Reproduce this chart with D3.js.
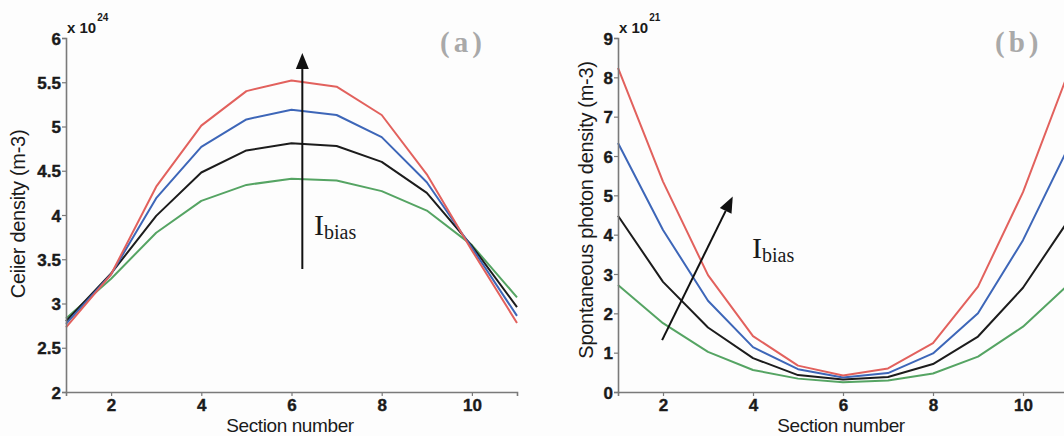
<!DOCTYPE html>
<html>
<head>
<meta charset="utf-8">
<script src="https://cdn.jsdelivr.net/npm/d3@7/dist/d3.min.js"></script>
<style>
  html, body { margin: 0; padding: 0; background: #fdfdfd; }
  svg { display: block; }
</style>
</head>
<body>
<svg id="chart" width="1064" height="436"></svg>
<script>
// Section index along the laser cavity
const sections = [1, 2, 3, 4, 5, 6, 7, 8, 9, 10, 11];

// (a) Carrier density, units of 1e24 m^-3, one series per bias current (low -> high)
const carrierGreen = [2.83, 3.28, 3.80, 4.16, 4.34, 4.41, 4.39, 4.27, 4.05, 3.66, 3.07];
const carrierBlack = [2.80, 3.34, 3.99, 4.48, 4.73, 4.81, 4.78, 4.60, 4.25, 3.65, 2.96];
const carrierBlue  = [2.77, 3.33, 4.19, 4.77, 5.08, 5.19, 5.13, 4.88, 4.37, 3.63, 2.86];
const carrierRed   = [2.73, 3.33, 4.32, 5.01, 5.40, 5.52, 5.45, 5.13, 4.46, 3.60, 2.78];

// (b) Spontaneous photon density, units of 1e21 m^-3
const photonGreen = [2.72, 1.75, 1.02, 0.56, 0.34, 0.25, 0.29, 0.47, 0.90, 1.66, 2.72];
const photonBlack = [4.48, 2.80, 1.64, 0.86, 0.43, 0.32, 0.38, 0.71, 1.41, 2.65, 4.35];
const photonBlue  = [6.33, 4.12, 2.32, 1.14, 0.58, 0.37, 0.48, 0.98, 2.00, 3.86, 6.20];
const photonRed   = [8.24, 5.35, 2.97, 1.42, 0.67, 0.42, 0.60, 1.24, 2.68, 5.08, 8.10];

// Axis ticks
const xTicks = [2, 4, 6, 8, 10];
const carrierTicks = [2, 2.5, 3, 3.5, 4, 4.5, 5, 5.5, 6];
const photonTicks = [0, 1, 2, 3, 4, 5, 6, 7, 8, 9];

// Arrows showing increasing bias: [x0, y0, x1, y1] in data units
const arrowA = [6.24, 3.39, 6.24, 5.83];
const arrowB = [1.98, 1.32, 3.55, 4.97];

const colors = { green: "#55a463", black: "#1c1c1c", blue: "#3d66b8", red: "#e2615d" };
const sans = "'Liberation Sans', Arial, sans-serif";
const serif = "'Liberation Serif', 'Times New Roman', serif";

const svg = d3.select("#chart");

function panel(opts) {
  const x = d3.scaleLinear().domain([1, 11]).range(opts.xRange);
  const y = d3.scaleLinear().domain(opts.yDomain).range([392, 38]);
  const g = svg.append("g");

  const series = [
    { v: opts.data[0], c: colors.green },
    { v: opts.data[1], c: colors.black },
    { v: opts.data[2], c: colors.blue },
    { v: opts.data[3], c: colors.red }
  ];
  const line = d3.line().x((d, i) => x(sections[i])).y(d => y(d));
  g.selectAll("path.series").data(series).enter().append("path")
    .attr("class", "series")
    .attr("d", d => line(d.v))
    .attr("fill", "none")
    .attr("stroke", d => d.c)
    .attr("stroke-width", 2)
    .attr("stroke-linejoin", "round");

  // axes
  const xAxis = g.append("g").attr("transform", "translate(0,392)")
    .call(d3.axisBottom(x).tickValues(xTicks).tickSize(4).tickPadding(3).tickFormat(d3.format("d")));
  const yAxis = g.append("g").attr("transform", `translate(${opts.xRange[0]},0)`)
    .call(d3.axisLeft(y).tickValues(opts.yTicks).tickSize(4).tickPadding(1).tickFormat(d => String(d)));
  [xAxis, yAxis].forEach(a => {
    a.select(".domain").attr("stroke", "#7a7a7a").attr("stroke-width", 1.6);
    a.selectAll(".tick line").attr("stroke", "#7a7a7a").attr("stroke-width", 1.2);
    a.selectAll(".tick text")
      .attr("font-family", sans).attr("font-weight", 700)
      .attr("font-size", 17).attr("fill", "#1a1a1a")
      .attr("stroke", "#1a1a1a").attr("stroke-width", 0.4);
  });
  xAxis.selectAll(".tick text").attr("dy", "0.71em");
  yAxis.selectAll(".tick text").attr("dy", "0.36em");

  // exponent
  const ex = g.append("text")
    .attr("x", opts.xRange[0] + 1).attr("y", 33)
    .attr("font-family", sans)
    .attr("font-weight", 700).attr("font-size", 15).attr("fill", "#1a1a1a");
  ex.append("tspan").text("x 10");
  ex.append("tspan").attr("font-size", 10).attr("dy", -12).attr("dx", 1).text(opts.exp);

  // axis titles
  g.append("text")
    .attr("transform", `translate(${opts.yLabelX},${opts.yLabelY}) rotate(-90)`)
    .attr("text-anchor", "middle")
    .attr("font-family", sans)
    .attr("font-size", 20).attr("letter-spacing", -0.3).attr("fill", "#1a1a1a")
    .text(opts.yLabel);
  g.append("text")
    .attr("x", opts.xLabelX).attr("y", 432)
    .attr("text-anchor", "middle")
    .attr("font-family", sans)
    .attr("font-size", 19).attr("letter-spacing", -0.4).attr("fill", "#1a1a1a")
    .text("Section number");

  // panel tag
  g.append("text")
    .attr("x", opts.tagX).attr("y", 52)
    .attr("font-family", serif)
    .attr("font-weight", "bold").attr("font-size", 29).attr("letter-spacing", 4)
    .attr("fill", "#a9a9a9")
    .text(opts.tag);

  // bias arrow
  const a = opts.arrow;
  const x0 = x(a[0]), y0 = y(a[1]), x1 = x(a[2]), y1 = y(a[3]);
  const ang = Math.atan2(y1 - y0, x1 - x0);
  const headLen = 16, headW = 6.5;
  const bx = x1 - headLen * Math.cos(ang), by = y1 - headLen * Math.sin(ang);
  g.append("line")
    .attr("x1", x0).attr("y1", y0).attr("x2", bx).attr("y2", by)
    .attr("stroke", "#111").attr("stroke-width", 2);
  g.append("path")
    .attr("d", `M${x1},${y1}L${bx - headW * Math.sin(ang)},${by + headW * Math.cos(ang)}L${bx + headW * Math.sin(ang)},${by - headW * Math.cos(ang)}Z`)
    .attr("fill", "#111");

  // bias label
  const lb = g.append("text")
    .attr("x", opts.biasX).attr("y", opts.biasY)
    .attr("font-family", serif)
    .attr("font-size", 30).attr("fill", "#1a1a1a");
  lb.append("tspan").text("I");
  lb.append("tspan").attr("font-size", 20).attr("dy", 4).text("bias");
}

panel({
  xRange: [66, 517], yDomain: [2, 6], yTicks: carrierTicks, exp: "24",
  data: [carrierGreen, carrierBlack, carrierBlue, carrierRed],
  yLabel: "Ceiier density (m-3)", yLabelX: 25, yLabelY: 214, xLabelX: 290,
  tag: "(a)", tagX: 440, arrow: arrowA, biasX: 314, biasY: 235
});

panel({
  xRange: [618, 1068], yDomain: [0, 9], yTicks: photonTicks, exp: "21",
  data: [photonGreen, photonBlack, photonBlue, photonRed],
  yLabel: "Spontaneous photon density (m-3)", yLabelX: 593, yLabelY: 210, xLabelX: 841,
  tag: "(b)", tagX: 995, arrow: arrowB, biasX: 752, biasY: 258
});
</script>
</body>
</html>
